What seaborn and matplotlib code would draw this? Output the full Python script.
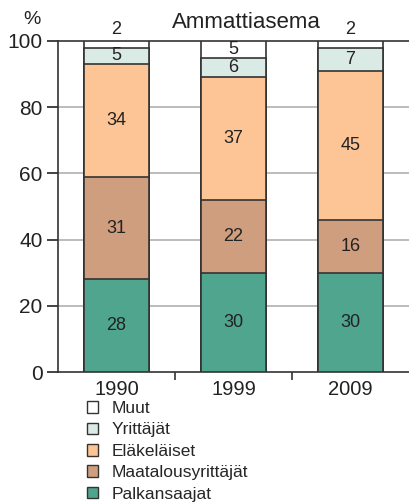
import matplotlib
matplotlib.use("Agg")
import matplotlib.pyplot as plt
import numpy as np
import pandas as pd
import seaborn as sns
from matplotlib.patches import Patch

# data
vuodet = ["1990", "1999", "2009"]
palkansaajat = [28, 30, 30]
maatalousyrittajat = [31, 22, 16]
elakelaiset = [34, 37, 45]
yrittajat = [5, 6, 7]
muut = [2, 5, 2]

ryhmat = ["Palkansaajat", "Maatalousyrittäjät", "Eläkeläiset", "Yrittäjät", "Muut"]
arvot = [palkansaajat, maatalousyrittajat, elakelaiset, yrittajat, muut]
varit = ["#4fa58e", "#cf9e7e", "#fdc596", "#daebe6", "#ffffff"]

sns.set_style("white")
plt.rcParams["font.family"] = ["Liberation Sans", "DejaVu Sans"]

fig = plt.figure(figsize=(4.09, 5.03), dpi=100)
ax = fig.add_axes([58 / 409, 1 - 372 / 503, 1 - 58 / 409, (372 - 41) / 503])

# cumulative sums, top layer drawn first so lower layers cover it
kumul = np.cumsum(np.array(arvot), axis=0)
for i in range(len(ryhmat) - 1, -1, -1):
    df = pd.DataFrame({"vuosi": vuodet, "arvo": kumul[i]})
    sns.barplot(data=df, x="vuosi", y="arvo", order=vuodet, color=varit[i],
                saturation=1, width=0.56, edgecolor="#333333", linewidth=1.2,
                ax=ax, zorder=3)

# value labels
for j in range(len(vuodet)):
    for i in range(len(ryhmat)):
        ala = kumul[i][j] - arvot[i][j]
        if i == len(ryhmat) - 1 and arvot[i][j] < 4:
            y = 103.6
        else:
            y = ala + arvot[i][j] / 2
        ax.text(j, y, str(arvot[i][j]), ha="center", va="center",
                fontsize=13, color="#222222", zorder=5, clip_on=False)

ax.set_xlim(-0.5, 2.5)
ax.set_ylim(0, 100)
ax.set_yticks([0, 20, 40, 60, 80, 100])
ax.set_xlabel("")
ax.set_ylabel("")
for yy in [20, 40, 60, 80]:
    ax.axhline(yy, color="#b0b0b0", linewidth=1.2, zorder=1)

ax.set_xticks([0.5, 1.5], minor=True)
ax.tick_params(axis="x", which="major", length=0, pad=6, labelsize=14.5, colors="#222222")
ax.tick_params(axis="x", which="minor", length=6, width=1.2, direction="out", colors="#333333")
ax.tick_params(axis="y", length=8, width=1.2, direction="out", labelsize=15, colors="#222222", pad=3)
ax.yaxis.set_ticks_position("left")
ax.xaxis.set_ticks_position("bottom")

for s in ["left", "bottom", "top"]:
    ax.spines[s].set_color("#333333")
    ax.spines[s].set_linewidth(1.2)
ax.spines["right"].set_visible(False)

fig.text(32 / 409, 1 - 19 / 503, "%", ha="center", va="center", fontsize=14, color="#222222")
fig.text(246 / 409, 1 - 22 / 503, "Ammattiasema", ha="center", va="center", fontsize=16, color="#222222")

kahvat = [Patch(facecolor=varit[i], edgecolor="#333333", linewidth=1.0, label=ryhmat[i])
          for i in range(len(ryhmat) - 1, -1, -1)]
fig.legend(handles=kahvat, loc="upper left", bbox_to_anchor=(87 / 409, 1 - 401 / 503),
           frameon=False, fontsize=12.5, handlelength=0.65, handleheight=0.65,
           handletextpad=0.75, labelspacing=0.37, borderpad=0, borderaxespad=0)

fig.savefig("out.png", dpi=100)
